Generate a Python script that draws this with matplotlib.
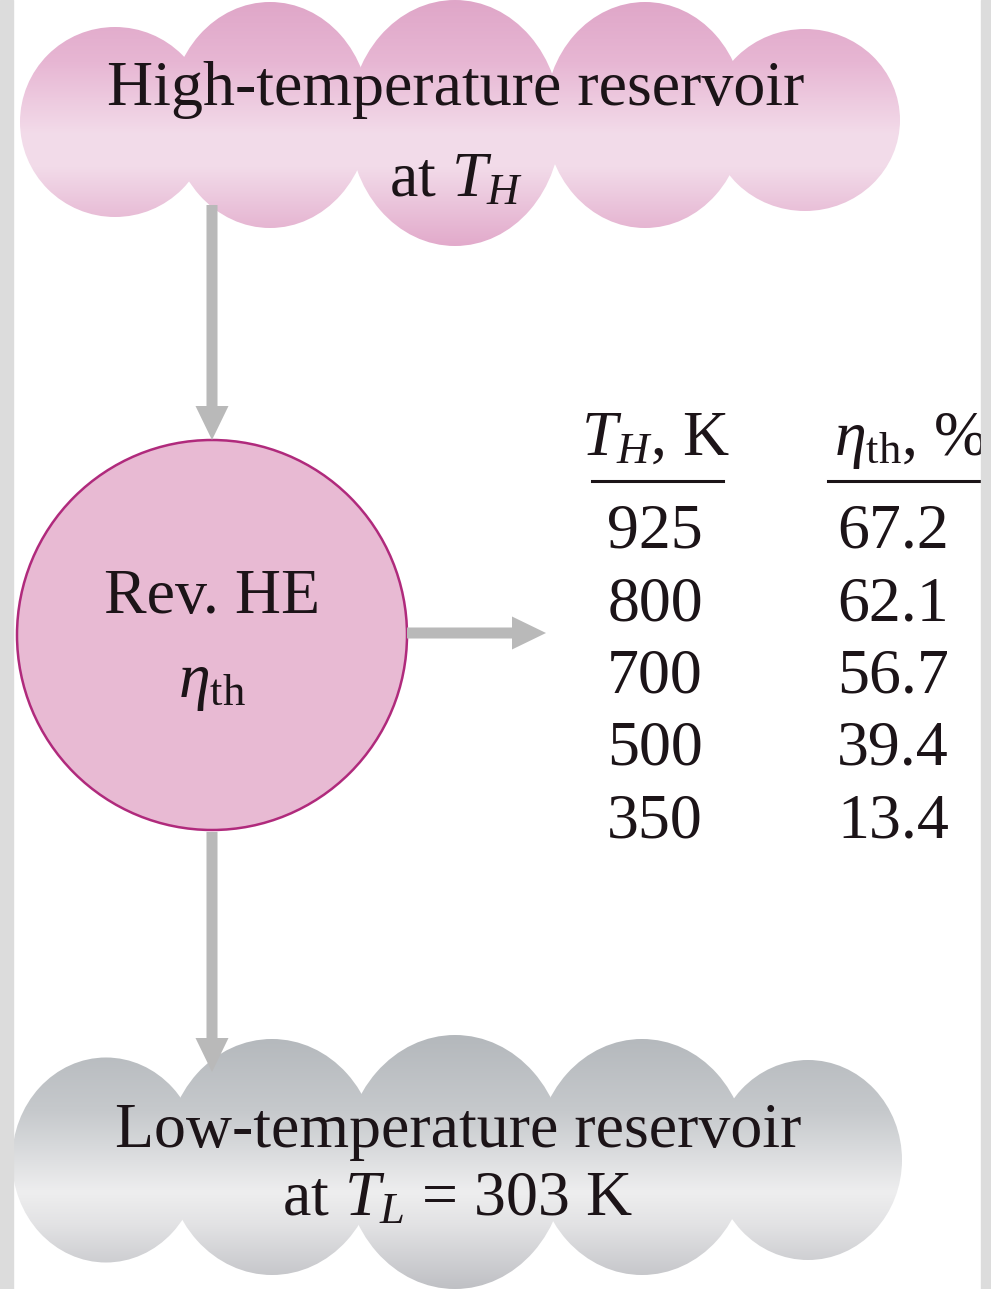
import numpy as np
import matplotlib
matplotlib.use("Agg")
import matplotlib.pyplot as plt
from matplotlib.patches import Ellipse, Circle, FancyArrow, Rectangle
from matplotlib.colors import LinearSegmentedColormap

plt.rcParams['font.family'] = ['Liberation Serif', 'DejaVu Serif']
plt.rcParams['mathtext.fontset'] = 'custom'
plt.rcParams['mathtext.rm'] = 'Liberation Serif'
plt.rcParams['mathtext.it'] = 'Liberation Serif:italic'

# table data
t_high = ['925', '800', '700', '500', '350']
eta_th = ['67.2', '62.1', '56.7', '39.4', '13.4']
col_headers = [r'$T_H$, K', r'$\eta_{\mathrm{th}}$, %']

top_labels = ['High-temperature reservoir', r'at $T_H$']
bottom_labels = ['Low-temperature reservoir', r'at $T_L$ = 303 K']
engine_labels = ['Rev. HE', r'$\eta_{\mathrm{th}}$']

W, H = 991, 1289
fig = plt.figure(figsize=(W / 100, H / 100), dpi=100)
ax = fig.add_axes([0, 0, 1, 1])
ax.set_xlim(0, W)
ax.set_ylim(H, 0)
ax.axis('off')
fig.patch.set_facecolor('white')

# gray frame strips left/right
ax.add_patch(Rectangle((0, 0), 13, H, color='#dcdcdc', zorder=10))
ax.add_patch(Rectangle((981, 0), 10, H, color='#dcdcdc', zorder=10))

text_kw = dict(color='#1c1418', fontsize=46)


def cloud(ax, ell, colors):
    # ell: list of (cx, cy, w, h); vertical gradient over the whole cloud
    ys = [e[1] - e[3] / 2 for e in ell] + [e[1] + e[3] / 2 for e in ell]
    top, bot = min(ys), max(ys)
    cmap = LinearSegmentedColormap.from_list('c', colors)
    grad = np.linspace(0, 1, 256).reshape(-1, 1)
    for cx, cy, w, h in ell:
        im = ax.imshow(grad, extent=[0, W, bot, top], cmap=cmap,
                       aspect='auto', zorder=1, interpolation='bilinear')
        e = Ellipse((cx, cy), w, h, transform=ax.transData)
        im.set_clip_path(e)


top_cloud = [(115, 122, 190, 190), (270, 115, 200, 226), (455, 123, 212, 246),
             (645, 115, 200, 226), (805, 120, 190, 182)]
pink = [(0.0, '#dfa6c8'), (0.25, '#e7b6d3'), (0.55, '#f3dcea'),
        (0.68, '#f2dbe9'), (1.0, '#e2aacb')]
cloud(ax, top_cloud, pink)

bot_cloud = [(106, 1160, 188, 205), (272, 1157, 212, 236), (455, 1162, 222, 254),
             (642, 1157, 212, 236), (808, 1160, 188, 200)]
grey = [(0.0, '#b4b8bc'), (0.3, '#c6c9cc'), (0.62, '#eeeeef'),
        (0.75, '#e2e2e4'), (1.0, '#bfc0c4')]
cloud(ax, bot_cloud, grey)

# engine circle
ax.add_patch(Circle((212, 635), 195, facecolor='#e8bad3', edgecolor='#b02a7c',
                    lw=1.8, zorder=3))

arrow_kw = dict(width=11, head_width=33, head_length=34, color='#b9b9b9',
                length_includes_head=True, zorder=4, lw=0)
ax.add_patch(FancyArrow(212, 205, 0, 235, **arrow_kw))
ax.add_patch(FancyArrow(212, 832, 0, 240, **arrow_kw))
ax.add_patch(FancyArrow(407, 633, 139, 0, **arrow_kw))

# cloud and engine text
ax.text(456, 105, top_labels[0], ha='center', va='baseline', zorder=5, **text_kw)
ax.text(456, 196, top_labels[1], ha='center', va='baseline', zorder=5, **text_kw)
ax.text(458, 1147, bottom_labels[0], ha='center', va='baseline', zorder=5, **text_kw)
ax.text(458, 1215, bottom_labels[1], ha='center', va='baseline', zorder=5, **text_kw)
ax.text(212, 613, engine_labels[0], ha='center', va='baseline', zorder=5, **text_kw)
ax.text(212, 697, engine_labels[1], ha='center', va='baseline', zorder=5, **text_kw)

# table
col_x = [655, 893]
ax.text(col_x[0], 455, col_headers[0], ha='center', va='baseline', zorder=5, **text_kw)
ax.text(834, 455, col_headers[1], ha='left', va='baseline', zorder=5, **text_kw)
ax.plot([592, 723], [481, 481], color='#1c1418', lw=2.2, zorder=5)
ax.plot([828, 985], [481, 481], color='#1c1418', lw=2.2, zorder=5)
row_y = 548 + 72.3 * np.arange(len(t_high))
for y, a, b in zip(row_y, t_high, eta_th):
    ax.text(col_x[0], y, a, ha='center', va='baseline', zorder=5, **text_kw)
    ax.text(col_x[1], y, b, ha='center', va='baseline', zorder=5, **text_kw)

fig.savefig('out.png', dpi=100, facecolor='white')
